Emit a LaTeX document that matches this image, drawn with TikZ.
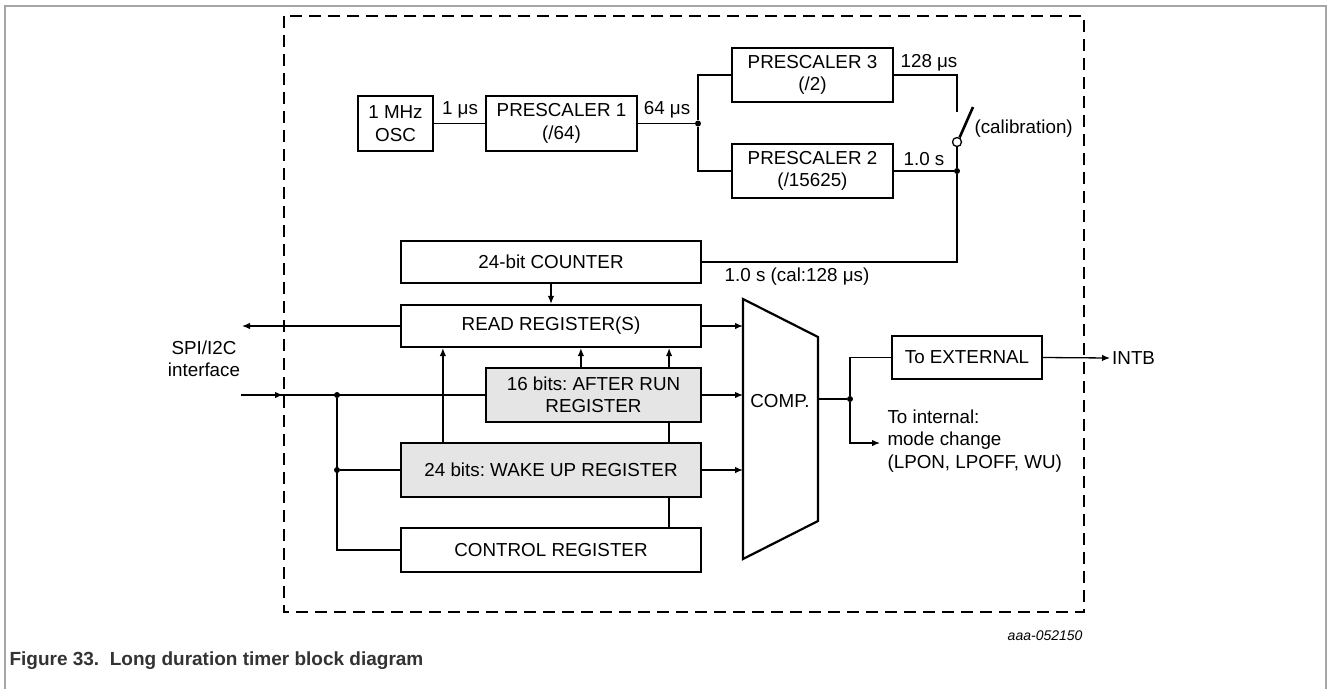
\documentclass[tikz,border=0pt]{standalone}
\usepackage{fontspec}
\setmainfont{Liberation Sans}
\usetikzlibrary{arrows.meta}
\frenchspacing

\begin{document}
\begin{tikzpicture}[x=1pt,y=-1pt,
    every node/.style={font=\fontsize{18.8}{22.5}\selectfont, text=black},
    blk/.style={draw, line width=2.2pt, inner sep=0pt, align=center},
    regblk/.style={blk, fill=black!10},
    wire/.style={line width=1.3pt},
    arr/.style={wire, -{Latex[length=8pt,width=6.5pt]}},
    dot/.style={circle, fill, inner sep=0pt, minimum size=6pt}]
    \useasboundingbox (0,0) rectangle (1328,689);
    \draw[black!35, line width=1.2pt] (5,689) -- (5,6) -- (1326,6) -- (1326,689);
    \draw[line width=2.6pt, dash pattern=on 12pt off 7pt] (284,16) rectangle (1084,612);

    % clock chain
    \node[blk, minimum width=75, minimum height=55] (osc) at (395.5,123.5) {1 MHz\\OSC};
    \node[blk, minimum width=151, minimum height=55] (pre1) at (561.5,123.5) {PRESCALER 1\\(/64)};
    \node[blk, minimum width=161, minimum height=54] (pre3) at (812.5,75) {PRESCALER 3\\(/2)};
    \node[blk, minimum width=161, minimum height=54] (pre2) at (812.5,171) {PRESCALER 2\\(/15625)};
    \node[dot] (j1) at (698,123.5) {};
    \node[dot] (j2) at (957,171) {};
    \node[circle, draw, line width=1.3pt, fill=white, inner sep=0pt, minimum size=9pt] (swpin) at (957,142) {};
    \coordinate (swtop) at (957,112);

    \draw[wire] (osc) -- (pre1);
    \draw[wire] (pre1) -- (j1);
    \draw[wire] (pre3.west) -| (j1) |- (pre2.west);
    \draw[wire] (pre3.east) -| (swtop);
    \draw[line width=2.6pt] (swpin.60) -- (973,107);
    \draw[wire] (swpin) -- (j2);
    \draw[wire] (pre2.east) -- (j2);

    \node (l1us) at (460,110) {1 μs};
    \node (l64) at (667,110) {64 μs};
    \node (l128) at (929,63) {128 μs};
    \node (l10) at (924,159) {1.0 s};
    \node[anchor=west] (lcal) at (971,129) {(calibration)};

    % registers
    \node[blk, minimum width=300, minimum height=42] (counter) at (551,262) {24-bit COUNTER};
    \node[blk, minimum width=300, minimum height=42] (readreg) at (551,326) {READ REGISTER(S)};
    \node[regblk, minimum width=215, minimum height=54] (afterrun) at (593.5,395) {16 bits: AFTER RUN\\REGISTER};
    \node[regblk, minimum width=300, minimum height=54] (wakeup) at (551,470) {24 bits: WAKE UP REGISTER};
    \node[blk, minimum width=300, minimum height=44] (control) at (551,550) {CONTROL REGISTER};
    \node (lcnt) at (797,277) {1.0 s (cal:128 μs)};

    \draw[wire] (j2) |- (counter.east);
    \draw[arr] (counter) -- (readreg);

    \coordinate (spiout) at (242,326);
    \coordinate (spiin) at (241,395);
    \coordinate (frameL) at (283,395);
    \node[align=center] (lspi) at (204,359) {SPI/I2C\\interface};
    \node[dot] (b1) at (337,395) {};
    \node[dot] (b2) at (337,470) {};
    \draw[arr] (readreg.west) -- (spiout);
    \draw[wire] (spiin) -- (afterrun.west);
    \draw[arr] (spiin) -- (frameL);
    \draw[wire] (b1) |- (control.west);
    \draw[wire] (b2) -- (wakeup.west);

    \draw[arr] ([xshift=43pt]wakeup.north west) -- ([xshift=43pt]readreg.south west);
    \draw[arr] ([xshift=96pt]afterrun.north west) -- ([xshift=96pt]afterrun.north west |- readreg.south);
    \draw[arr] ([xshift=-33pt]afterrun.north east) -- ([xshift=-33pt]readreg.south east);
    \draw[wire] ([xshift=-33pt]afterrun.south east) -- ([xshift=-33pt]wakeup.north east);
    \draw[wire] ([xshift=-33pt]wakeup.south east) -- ([xshift=-33pt]control.north east);

    % comparator and outputs
    \draw[line width=2.2pt] (743,299) -- (818,337) -- (818,521) -- (743,559) -- cycle;
    \node (comp) at (780,401) {COMP.};
    \coordinate (compin) at (743,0);
    \coordinate (compout) at (818,399);
    \draw[arr] (readreg.east) -- (readreg.east -| compin);
    \draw[arr] (afterrun.east) -- (afterrun.east -| compin);
    \draw[arr] (wakeup.east) -- (wakeup.east -| compin);

    \node[blk, minimum width=150, minimum height=43] (ext) at (967,357.5) {To EXTERNAL};
    \node[anchor=west, inner sep=2pt] (intb) at (1110,358) {INTB};
    \node[dot] (j3) at (850,399) {};
    \coordinate (intarr) at (880,443);
    \node[anchor=west, align=left] (lint) at (884,441) {To internal:\\mode change\\(LPON, LPOFF, WU)};
    \draw[wire] (compout) -- (j3);
    \draw[wire] (j3) |- (ext.west);
    \draw[arr] (j3) |- (intarr);
    \draw[arr] (ext.east) -- (intb.west);

    \node[anchor=east, font=\fontsize{14}{16}\selectfont\itshape] (figid) at (1086,636) {aaa-052150};
    \node[anchor=west, font=\fontsize{19}{22}\selectfont\bfseries, text=black!80] (cap) at (6,661) {Figure 33.\ \ Long duration timer block diagram};
\end{tikzpicture}
\end{document}
